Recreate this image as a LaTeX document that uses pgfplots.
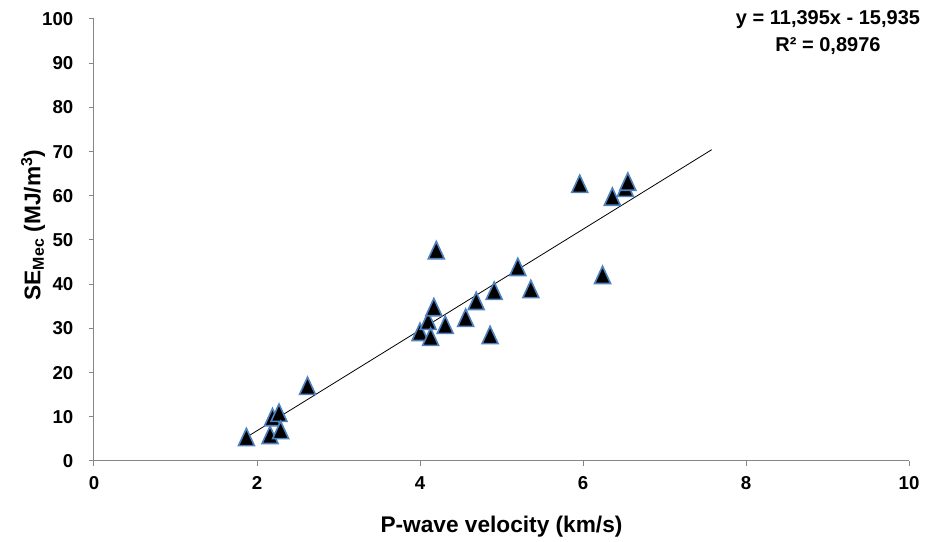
\documentclass[border=0pt]{standalone}
\usepackage{fontspec}
\setmainfont{Liberation Sans}
\usepackage{pgfplots}
\pgfplotsset{compat=1.18}

\definecolor{axisgray}{HTML}{868686}
\definecolor{markedge}{HTML}{4F81BD}

\begin{document}
\begin{tikzpicture}
\begin{axis}[
  scale only axis,
  width=611.25pt, height=331.5pt,
  xmin=0, xmax=10, ymin=0, ymax=100,
  xtick={0,2,...,10}, ytick={0,10,...,100},
  axis x line*=bottom, axis y line*=left,
  axis line style={-, axisgray, line width=0.75pt},
  tick style={axisgray, line width=0.75pt},
  tick align=outside,
  major tick length=4pt,
  /pgf/number format/assume math mode=true,
  tick label style={font=\fontsize{14}{16}\selectfont\bfseries},
  xticklabel style={yshift=-4pt},
  yticklabel style={xshift=-8pt},
  xlabel={P-wave velocity (km/s)},
  ylabel={SE\textsubscript{Mec} (MJ/m\textsuperscript{3})},
  label style={font=\fontsize{17}{20}\selectfont\bfseries},
  xlabel style={at={(axis description cs:0.5,0)}, anchor=base, yshift=-54pt},
  ylabel style={at={([xshift=-45.75pt]axis description cs:0,0.534)}, anchor=center, rotate=0},
  clip=false,
]
% measured samples
\addplot[only marks, mark=triangle*, mark size=6.9pt,
  mark options={yshift=-2.1pt, yscale=1.25, fill=black, draw=markedge, line width=1.2pt}]
  coordinates {
  (1.87,5.4) (2.19,9.9) (2.27,10.9) (2.16,5.9) (2.29,7.0) (2.62,17.0)
  (4.00,29.2) (4.10,31.7) (4.13,28.1) (4.17,34.8) (4.20,47.7) (4.31,30.8)
  (4.56,32.4) (4.69,36.2) (4.86,28.5) (4.91,38.5) (5.20,43.9) (5.36,38.9)
  (5.96,62.7) (6.24,42.1) (6.36,59.8) (6.52,61.8) (6.55,63.2)
  };
% linear trend y = 11.395x - 15.935
\addplot[black, line width=0.6pt] coordinates {(1.87,5.37) (7.58,70.44)};
\end{axis}
\node[anchor=north, inner sep=0pt, align=center, font=\fontsize{15}{20.25}\selectfont\bfseries]
  at ([xshift=-60.75pt, yshift=6.75pt]current axis.north east)
  {y = 11,395x - 15,935\\R² = 0,8976};
\pgfresetboundingbox
\path ([shift={(-70.5pt,-60.75pt)}]current axis.south west) rectangle ([shift={(17.25pt,14.25pt)}]current axis.north east);
\end{tikzpicture}
\end{document}
